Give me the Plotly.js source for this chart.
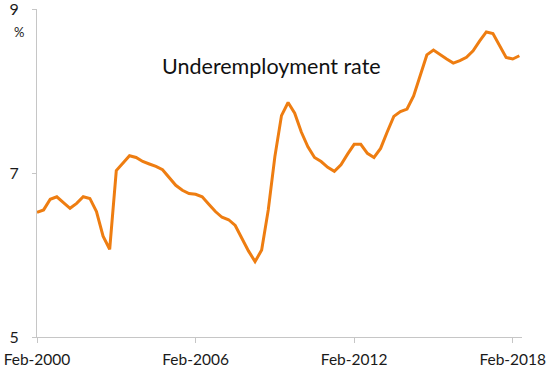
<!DOCTYPE html>
<html>
<head>
<meta charset="utf-8">
<script src="https://cdn.plot.ly/plotly-3.0.1.min.js"></script>
<style>
html,body{margin:0;padding:0;background:#fff;}
#chart{width:550px;height:378px;}
</style>
</head>
<body>
<div id="chart"></div>
<script>
// Quarterly observations, Feb-2000 to May-2018
var quarters = [
  "Feb-2000","May-2000","Aug-2000","Nov-2000",
  "Feb-2001","May-2001","Aug-2001","Nov-2001",
  "Feb-2002","May-2002","Aug-2002","Nov-2002",
  "Feb-2003","May-2003","Aug-2003","Nov-2003",
  "Feb-2004","May-2004","Aug-2004","Nov-2004",
  "Feb-2005","May-2005","Aug-2005","Nov-2005",
  "Feb-2006","May-2006","Aug-2006","Nov-2006",
  "Feb-2007","May-2007","Aug-2007","Nov-2007",
  "Feb-2008","May-2008","Aug-2008","Nov-2008",
  "Feb-2009","May-2009","Aug-2009","Nov-2009",
  "Feb-2010","May-2010","Aug-2010","Nov-2010",
  "Feb-2011","May-2011","Aug-2011","Nov-2011",
  "Feb-2012","May-2012","Aug-2012","Nov-2012",
  "Feb-2013","May-2013","Aug-2013","Nov-2013",
  "Feb-2014","May-2014","Aug-2014","Nov-2014",
  "Feb-2015","May-2015","Aug-2015","Nov-2015",
  "Feb-2016","May-2016","Aug-2016","Nov-2016",
  "Feb-2017","May-2017","Aug-2017","Nov-2017",
  "Feb-2018","May-2018"
];

var underemploymentRate = [
  6.52, 6.55, 6.68, 6.71,
  6.64, 6.57, 6.63, 6.71,
  6.69, 6.53, 6.23, 6.07,
  7.03, 7.12, 7.21, 7.19,
  7.14, 7.11, 7.08, 7.04,
  6.94, 6.85, 6.79, 6.75,
  6.74, 6.71, 6.62, 6.53,
  6.46, 6.43, 6.36, 6.20,
  6.05, 5.92, 6.06, 6.55,
  7.20, 7.70, 7.86, 7.73,
  7.50, 7.32, 7.19, 7.14,
  7.07, 7.02, 7.10, 7.23,
  7.35, 7.35, 7.24, 7.19,
  7.30, 7.50, 7.69, 7.75,
  7.78, 7.94, 8.20, 8.44,
  8.50, 8.44, 8.39, 8.34,
  8.37, 8.41, 8.49, 8.61,
  8.72, 8.70, 8.55, 8.41,
  8.39, 8.43
];

var xTickLabels = ["Feb-2000", "Feb-2006", "Feb-2012", "Feb-2018"];
var yTickValues = [5, 7, 9];

var font = "Lato, 'Open Sans', sans-serif";
var axisGrey = "#c6c6c6";

var trace = {
  type: "scatter",
  mode: "lines",
  x: quarters,
  y: underemploymentRate,
  line: {color: "#EE7D11", width: 3},
  hoverinfo: "x+y"
};

var layout = {
  width: 550,
  height: 378,
  margin: {l: 37, r: 28, t: 9, b: 41},
  paper_bgcolor: "#ffffff",
  plot_bgcolor: "#ffffff",
  showlegend: false,
  font: {family: font, color: "#1a1a1a"},
  xaxis: {
    type: "category",
    range: [0, 73.4],
    tickmode: "array",
    tickvals: xTickLabels,
    ticktext: xTickLabels,
    showline: true,
    linecolor: axisGrey,
    linewidth: 1,
    ticks: "outside",
    ticklen: 5,
    tickcolor: axisGrey,
    tickfont: {family: font, size: 15.5, color: "#1a1a1a"},
    ticklabelstandoff: 3,
    ticklabeloverflow: "allow",
    showgrid: false,
    zeroline: false,
    fixedrange: true
  },
  yaxis: {
    range: [5, 9],
    tickmode: "array",
    tickvals: yTickValues,
    ticktext: yTickValues.map(String),
    showline: true,
    linecolor: axisGrey,
    linewidth: 1,
    ticks: "outside",
    ticklen: 4,
    tickcolor: axisGrey,
    tickfont: {family: font, size: 16, color: "#1a1a1a"},
    ticklabelstandoff: 10,
    ticklabeloverflow: "allow",
    showgrid: false,
    zeroline: false,
    fixedrange: true
  },
  annotations: [
    {
      text: "Underemployment rate",
      xref: "paper", yref: "paper",
      x: 0.484, y: 0.825,
      xanchor: "center", yanchor: "middle",
      showarrow: false,
      font: {family: font, size: 21.5, color: "#111111"}
    },
    {
      text: "%",
      xref: "paper", yref: "paper",
      x: -0.037, y: 0.93,
      xanchor: "center", yanchor: "middle",
      showarrow: false,
      font: {family: font, size: 13, color: "#1a1a1a"}
    }
  ]
};

Plotly.newPlot("chart", [trace], layout, {displayModeBar: false, staticPlot: true});
</script>
</body>
</html>
